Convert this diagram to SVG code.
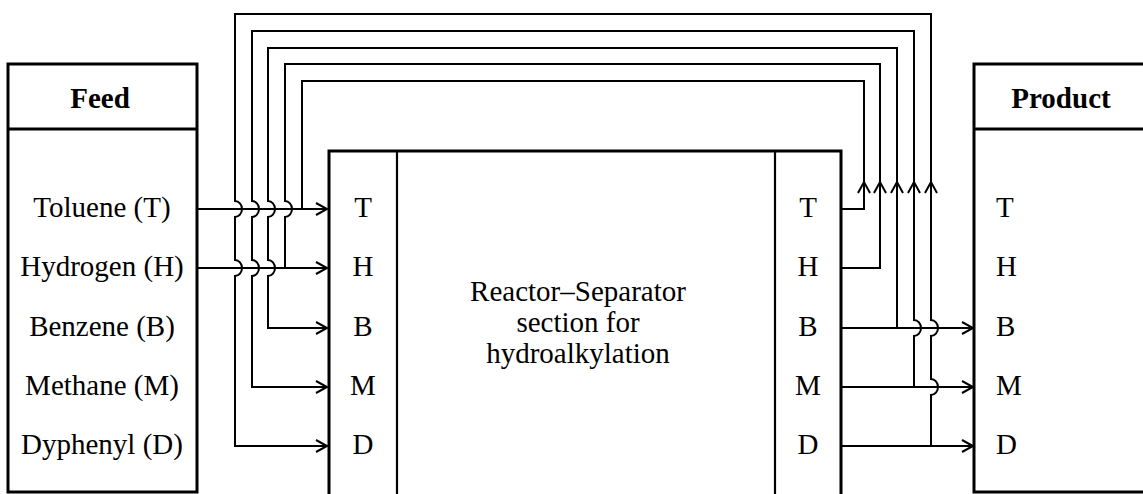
<svg xmlns="http://www.w3.org/2000/svg" width="1143" height="494" viewBox="0 0 1143 494">
<style>
.box{fill:#fff;stroke:#000;stroke-width:3}
.ln{fill:none;stroke:#000;stroke-width:3}
.in{fill:none;stroke:#000;stroke-width:2.2}
.c{fill:none;stroke:#000;stroke-width:2}
.t{font-family:"Liberation Serif","Times New Roman",serif;font-size:29px;fill:#000}
.b{font-weight:bold}
.m{text-anchor:middle}
</style>
<defs>
<path id="ah" d="M-11,-6 L0,0 L-11,6" fill="none" stroke="#000" stroke-width="2"/>
</defs>
<rect width="1143" height="494" fill="#fff"/>
<g id="feed">
<rect class="box" x="8" y="64" width="189" height="428"/>
<line class="ln" x1="8" y1="129" x2="197" y2="129"/>
<text class="t b m" x="100" y="108">Feed</text>
<text class="t m" x="102" y="217">Toluene (T)</text>
<text class="t m" x="102" y="276">Hydrogen (H)</text>
<text class="t m" x="102" y="336">Benzene (B)</text>
<text class="t m" x="102" y="395">Methane (M)</text>
<text class="t m" x="102" y="454">Dyphenyl (D)</text>
</g>
<g id="reactor">
<path class="ln" d="M329,500 V151 H841 V500"/>
<line class="in" x1="397" y1="151" x2="397" y2="500"/>
<line class="in" x1="775" y1="151" x2="775" y2="500"/>
<text class="t m" x="363" y="217">T</text>
<text class="t m" x="363" y="276">H</text>
<text class="t m" x="363" y="336">B</text>
<text class="t m" x="363" y="395">M</text>
<text class="t m" x="363" y="454">D</text>
<text class="t m" x="808" y="217">T</text>
<text class="t m" x="808" y="276">H</text>
<text class="t m" x="808" y="336">B</text>
<text class="t m" x="808" y="395">M</text>
<text class="t m" x="808" y="454">D</text>
<text class="t m" x="578" y="301">Reactor–Separator</text>
<text class="t m" x="578" y="332">section for</text>
<text class="t m" x="578" y="363">hydroalkylation</text>
</g>
<g id="product">
<rect class="box" x="974" y="64" width="190" height="428"/>
<line class="ln" x1="974" y1="129" x2="1143" y2="129"/>
<text class="t b m" x="1061" y="108">Product</text>
<text class="t" x="996" y="217">T</text>
<text class="t" x="996" y="276">H</text>
<text class="t" x="996" y="336">B</text>
<text class="t" x="996" y="395">M</text>
<text class="t" x="996" y="454">D</text>
</g>
<g id="connectors">
<path class="c" d="M198,209 H327"/>
<path class="c" d="M198,268 H327"/>
<path class="c" d="M841,209 H864 V81 H302 V209"/>
<path class="c" d="M841,268 H880 V64 H285 V201 a7,8 0 0 1 0,16 V268"/>
<path class="c" d="M841,328 H974"/>
<path class="c" d="M897,328 V48 H268 V201 a7,8 0 0 1 0,16 V260 a7,8 0 0 1 0,16 V328 H327"/>
<path class="c" d="M841,387 H974"/>
<path class="c" d="M914,387 V336 a7,8 0 0 0 0,-16 V31 H252 V201 a7,8 0 0 1 0,16 V260 a7,8 0 0 1 0,16 V387 H327"/>
<path class="c" d="M841,446 H974"/>
<path class="c" d="M931,446 V395 a7,8 0 0 0 0,-16 V336 a7,8 0 0 0 0,-16 V14 H235 V201 a7,8 0 0 1 0,16 V260 a7,8 0 0 1 0,16 V446 H327"/>
<use href="#ah" transform="translate(327,209)"/>
<use href="#ah" transform="translate(327,268)"/>
<use href="#ah" transform="translate(327,328)"/>
<use href="#ah" transform="translate(327,387)"/>
<use href="#ah" transform="translate(327,446)"/>
<use href="#ah" transform="translate(973,328)"/>
<use href="#ah" transform="translate(973,387)"/>
<use href="#ah" transform="translate(973,446)"/>
<use href="#ah" transform="translate(864,182) rotate(-90)"/>
<use href="#ah" transform="translate(880,182) rotate(-90)"/>
<use href="#ah" transform="translate(897,182) rotate(-90)"/>
<use href="#ah" transform="translate(914,182) rotate(-90)"/>
<use href="#ah" transform="translate(931,182) rotate(-90)"/>
</g>
</svg>
